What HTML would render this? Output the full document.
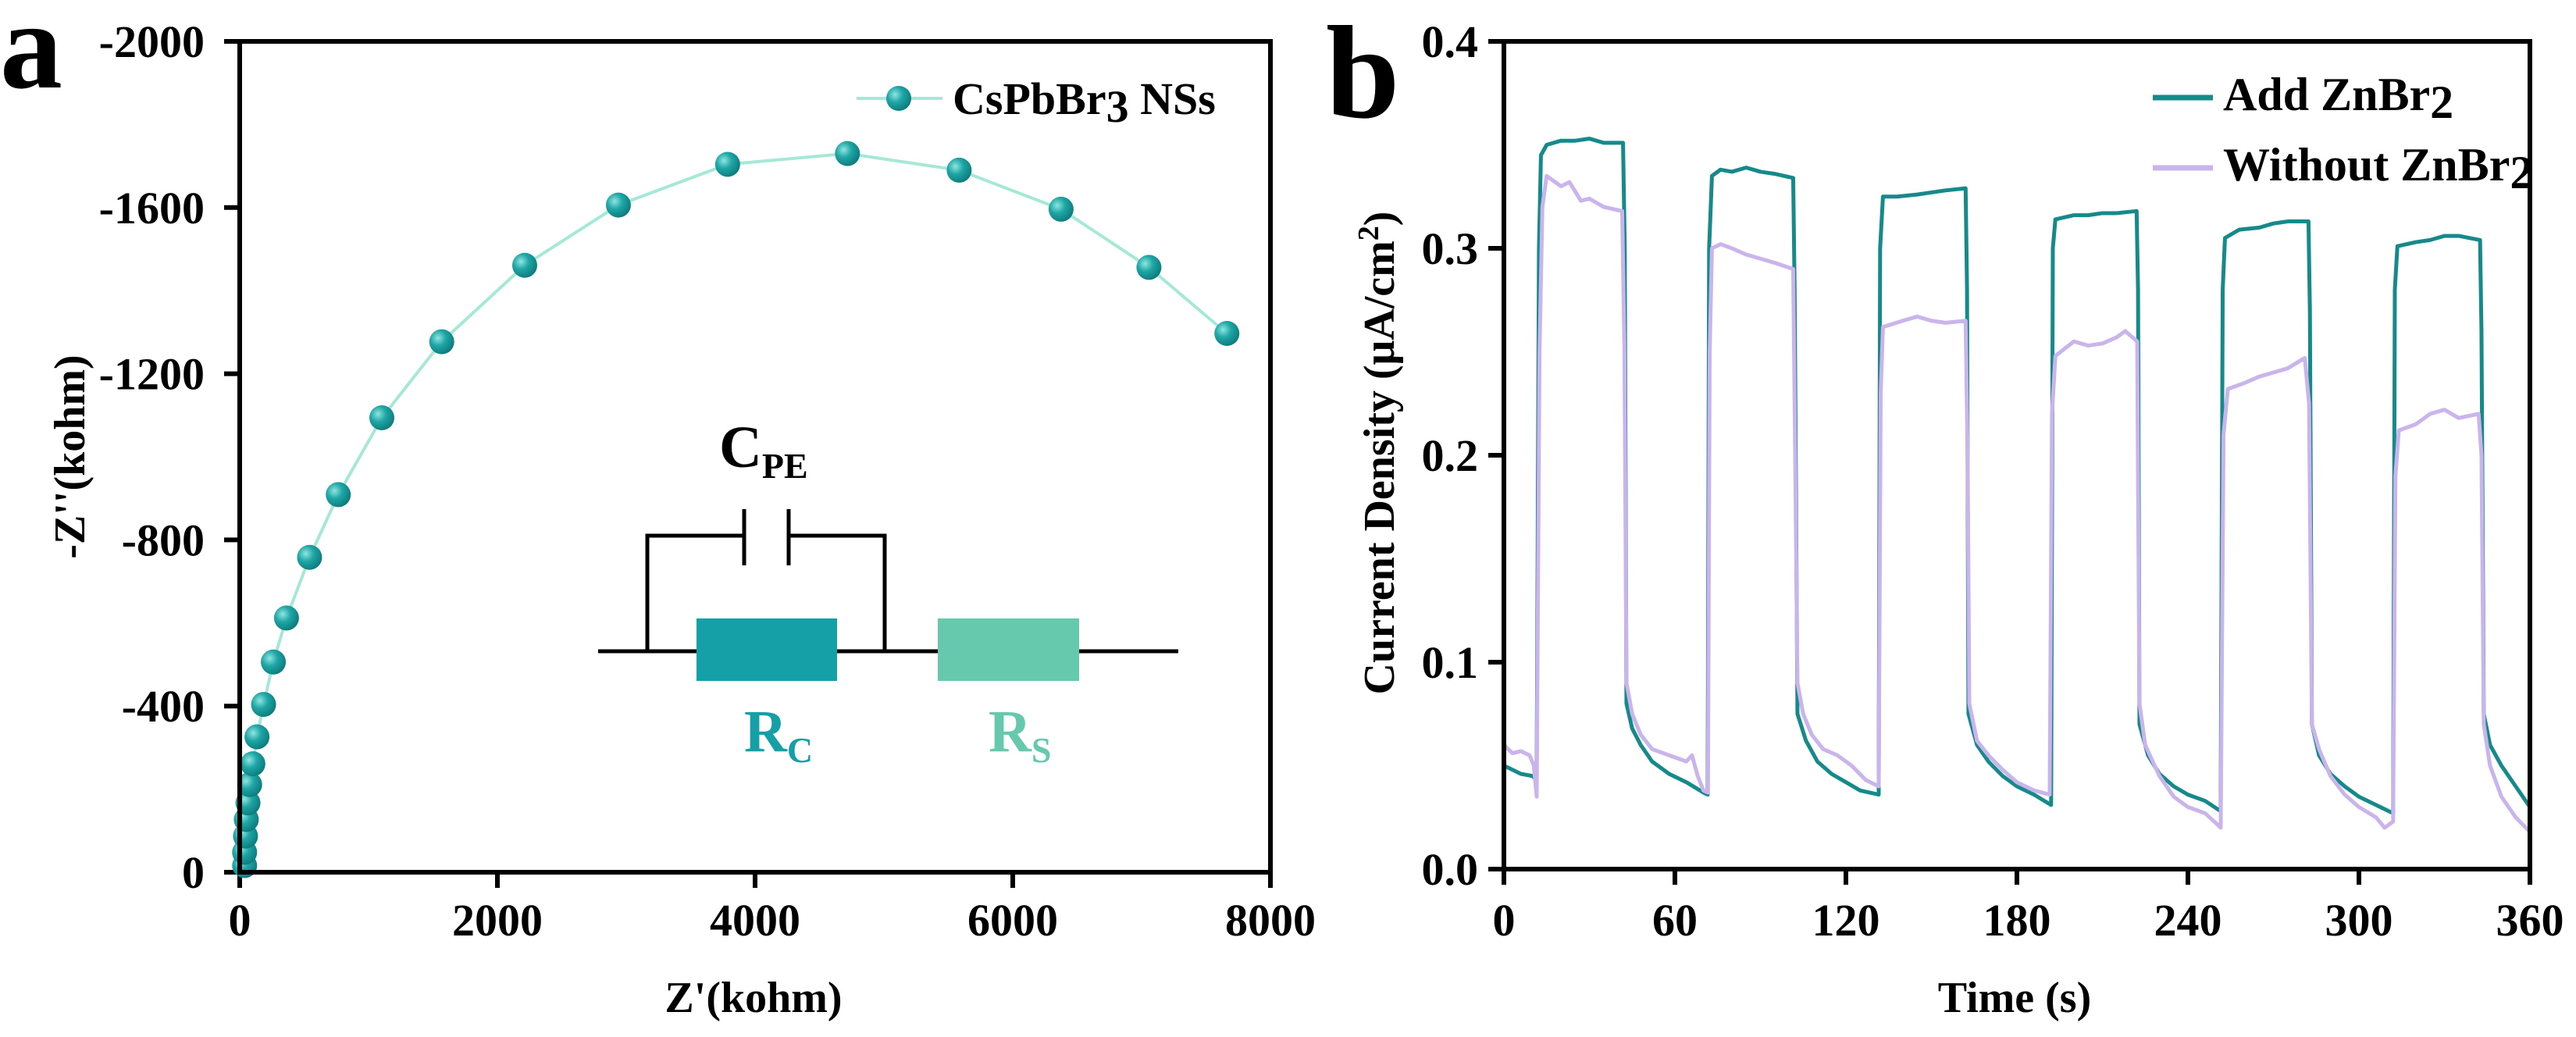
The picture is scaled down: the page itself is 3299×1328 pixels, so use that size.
<!DOCTYPE html>
<html><head><meta charset="utf-8">
<style>
html,body{margin:0;padding:0;background:#fff;}
svg{display:block;font-family:"Liberation Serif",serif;font-weight:bold;}
</style></head>
<body>
<svg id="fig" width="3299" height="1328" viewBox="0 0 3299 1328" xmlns="http://www.w3.org/2000/svg">
<defs>
<radialGradient id="ball" cx="0.35" cy="0.35" r="0.7">
<stop offset="0" stop-color="#8fe6df"/><stop offset="0.45" stop-color="#1fa6a6"/><stop offset="1" stop-color="#0d7a7c"/>
</radialGradient>
</defs>
<g id="pa"></g>
<g id="pb"></g>
</svg>
<script>
// ---- Panel a data (Nyquist) ----
const nyqX = [38, 38, 45, 51, 64, 77, 102, 134, 185, 261, 363, 542, 765, 1103, 1568, 2212, 2939, 3787, 4717, 5584, 6375, 7057, 7662];
const nyqY = [16, 48, 87, 127, 167, 211, 261, 326, 404, 506, 612, 758, 909, 1094, 1277, 1461, 1606, 1704, 1730, 1690, 1596, 1456, 1297];
const aXTicks = [0, 2000, 4000, 6000, 8000];
const aYTicks = [0, 400, 800, 1200, 1600, 2000];
const aYLabels = ["0", "-400", "-800", "-1200", "-1600", "-2000"];

// ---- Panel b data (photocurrent) ----
const addT = [0,3,6,10,11.5,12.3,13,15,20,25,30,35,41.8,42.4,43,45,48,52,58,64,70,71.5,72,73,76,80,85,90,95,101.5,102,103,106,110,115,120,125,131.5,132,133,138,145,150,155,162,162.5,163,166,170,175,180,186,192,192.6,193.5,200,205,210,215,222,222.5,223,226,230,235,240,246,251.5,252.2,253,258,265,270,275,282.3,282.8,283.5,286,290,295,300,306,312,312.6,313.5,320,325,330,335,342.5,343,343.8,346,350,355,360];
const addV = [.050,.048,.046,.045,.043,.300,.345,.350,.352,.352,.353,.351,.351,.300,.080,.068,.060,.052,.046,.042,.037,.036,.300,.335,.338,.337,.339,.337,.336,.334,.280,.075,.062,.052,.046,.042,.038,.036,.300,.325,.325,.326,.327,.328,.329,.280,.075,.060,.052,.045,.040,.036,.031,.300,.314,.316,.316,.317,.317,.318,.280,.070,.055,.046,.040,.036,.033,.028,.280,.305,.309,.310,.312,.313,.313,.270,.070,.055,.046,.040,.035,.031,.027,.280,.301,.303,.304,.306,.306,.304,.260,.075,.060,.050,.040,.030];
const woT = [0,3,6,9,10.5,11.5,12.5,13.5,15,17,20,23,27,30,35,41.5,42.3,43,45,48,52,56,60,64,66,68,70,71.6,72.2,73,76,80,85,90,95,101.5,102.2,103,105,108,112,117,122,127,131.5,132.2,133,140,145,150,155,162,162.7,163.3,166,170,175,180,186,191.5,192.3,193.5,200,205,210,215,218,222.2,223,225,230,235,240,246,250,251.5,252.5,254,260,265,270,275,281,282.5,283.5,286,290,295,300,306,309,312,312.8,314,320,325,330,335,342,343,343.8,346,350,355,360];
const woV = [.060,.056,.057,.055,.050,.035,.250,.320,.335,.333,.330,.332,.323,.324,.320,.318,.250,.090,.075,.065,.058,.056,.054,.052,.055,.045,.038,.037,.250,.300,.302,.300,.297,.295,.293,.290,.200,.090,.075,.065,.058,.055,.050,.043,.040,.230,.262,.265,.267,.265,.264,.265,.200,.080,.062,.055,.048,.042,.038,.036,.220,.248,.255,.253,.254,.257,.260,.255,.080,.060,.045,.035,.030,.027,.022,.020,.210,.232,.235,.238,.240,.242,.247,.225,.070,.058,.045,.036,.030,.025,.020,.023,.190,.212,.215,.220,.222,.218,.220,.200,.070,.050,.035,.025,.018];
const bXTicks = [0, 60, 120, 180, 240, 300, 360];
const bYTicks = [0, 0.1, 0.2, 0.3, 0.4];
const bYLabels = ["0.0", "0.1", "0.2", "0.3", "0.4"];

const NS = "http://www.w3.org/2000/svg";
function mk(parent, tag, attrs, text){
  const e = document.createElementNS(NS, tag);
  for (const k in attrs) e.setAttribute(k, attrs[k]);
  if (text !== undefined) e.textContent = text;
  parent.appendChild(e);
  return e;
}

// ===== Panel a =====
const pa = document.getElementById('pa');
const aL = 307, aR = 1627, aT = 53, aB = 1117;
const ax = v => aL + (v / 8000) * (aR - aL);
const ay = v => aB - (v / 2000) * (aB - aT);

let t = mk(pa, 'text', {x: 0, y: 112, 'font-size': 160}, 'a');



aXTicks.forEach(v => {
  const l = mk(pa, 'line', {x1: ax(v), x2: ax(v), y1: aB, y2: aB + 20, stroke: '#000', 'stroke-width': 6});
  
  
  const tx = mk(pa, 'text', {x: ax(v), y: 1198, 'font-size': 58, 'text-anchor': 'middle'}, String(v));
  
  
});
aYTicks.forEach((v, i) => {
  const l = mk(pa, 'line', {x1: aL - 20, x2: aL, y1: ay(v), y2: ay(v), stroke: '#000', 'stroke-width': 6});
  
  
  const tx = mk(pa, 'text', {x: 262, y: ay(v) + 20, 'font-size': 58, 'text-anchor': 'end'}, aYLabels[i]);
  
  
});

// circuit inset
const circ = mk(pa, 'g', {});


mk(circ, 'line', {x1: 766, x2: 1509, y1: 834, y2: 834, stroke: '#000', 'stroke-width': 5});
mk(circ, 'polyline', {points: '829,834 829,686 953,686', fill: 'none', stroke: '#000', 'stroke-width': 5});
mk(circ, 'polyline', {points: '1010,686 1133,686 1133,834', fill: 'none', stroke: '#000', 'stroke-width': 5});
mk(circ, 'line', {x1: 953, x2: 953, y1: 652, y2: 724, stroke: '#000', 'stroke-width': 5});
mk(circ, 'line', {x1: 1010, x2: 1010, y1: 652, y2: 724, stroke: '#000', 'stroke-width': 5});
let rc = mk(circ, 'rect', {x: 892, y: 792, width: 180, height: 80, fill: '#14a0a6'});


let rs = mk(circ, 'rect', {x: 1201, y: 792, width: 181, height: 80, fill: '#66c9ae'});


let cpe = mk(circ, 'text', {x: 921, y: 598, 'font-size': 76}, 'C');
mk(cpe, 'tspan', {dy: 14, 'font-size': 46}, 'PE');
let rcl = mk(circ, 'text', {x: 953, y: 962, 'font-size': 76, fill: '#14a0a6'}, 'R');
mk(rcl, 'tspan', {dy: 14, 'font-size': 46}, 'C');
let rsl = mk(circ, 'text', {x: 1266, y: 962, 'font-size': 76, fill: '#66c9ae'}, 'R');
mk(rsl, 'tspan', {dy: 14, 'font-size': 46}, 'S');

// series
const pts = nyqX.map((x, i) => ax(x) + ',' + ay(nyqY[i])).join(' ');
let nl = mk(pa, 'polyline', {points: pts, fill: 'none', stroke: '#a6e8d6', 'stroke-width': 4});


nyqX.forEach((x, i) => {
  const c = mk(pa, 'circle', {cx: ax(x), cy: ay(nyqY[i]), r: 16, fill: 'url(#ball)'});
  
  
});

// axes
let ab = mk(pa, 'polyline', {points: `${aL},${aT} ${aL},${aB} ${aR},${aB}`, fill: 'none', stroke: '#000', 'stroke-width': 6});


mk(pa, 'polyline', {points: `${aL-3},${aT} ${aR},${aT} ${aR},${aB+20}`, fill: 'none', stroke: '#000', 'stroke-width': 6});

// legend a
const lga = mk(pa, 'g', {});


mk(lga, 'line', {x1: 1097, x2: 1207, y1: 126, y2: 126, stroke: '#a6e8d6', 'stroke-width': 4});
mk(lga, 'circle', {cx: 1151, cy: 126, r: 16, fill: 'url(#ball)'});
let lt = mk(lga, 'text', {x: 1220, y: 146, 'font-size': 58}, 'CsPbBr');
mk(lt, 'tspan', {dy: 10, 'font-size': 58}, '3');
mk(lt, 'tspan', {dy: -10}, ' NSs');

let yta = mk(pa, 'text', {x: 0, y: 0, 'font-size': 56, 'text-anchor': 'middle', transform: 'translate(108,585) rotate(-90)'}, "-Z''(kohm)");


let xta = mk(pa, 'text', {x: 965, y: 1296, 'font-size': 56, 'text-anchor': 'middle'}, "Z'(kohm)");



// ===== Panel b =====
const pb = document.getElementById('pb');
const bL = 1926, bR = 3240, bT = 53, bB = 1113;
const bx = v => bL + (v / 360) * (bR - bL);
const by = v => bB - (v / 0.4) * (bB - bT);

t = mk(pb, 'text', {x: 1698, y: 150, 'font-size': 170}, 'b');



bXTicks.forEach(v => {
  const l = mk(pb, 'line', {x1: bx(v), x2: bx(v), y1: bB, y2: bB + 20, stroke: '#000', 'stroke-width': 6});
  
  
  const tx = mk(pb, 'text', {x: bx(v), y: 1198, 'font-size': 58, 'text-anchor': 'middle'}, String(v));
  
  
});
bYTicks.forEach((v, i) => {
  const l = mk(pb, 'line', {x1: bL - 20, x2: bL, y1: by(v), y2: by(v), stroke: '#000', 'stroke-width': 6});
  
  
  const tx = mk(pb, 'text', {x: 1893, y: by(v) + 20, 'font-size': 58, 'text-anchor': 'end'}, bYLabels[i]);
  
  
});

let sAdd = mk(pb, 'polyline', {points: addT.map((x, i) => bx(x) + ',' + by(addV[i])).join(' '), fill: 'none', stroke: '#16898a', 'stroke-width': 5, 'stroke-linejoin': 'round'});


let sWo = mk(pb, 'polyline', {points: woT.map((x, i) => bx(x) + ',' + by(woV[i])).join(' '), fill: 'none', stroke: '#c9b4ec', 'stroke-width': 5, 'stroke-linejoin': 'round'});



let bb = mk(pb, 'polyline', {points: `${bL},${bT} ${bL},${bB} ${bR},${bB}`, fill: 'none', stroke: '#000', 'stroke-width': 6});


mk(pb, 'polyline', {points: `${bL-3},${bT} ${bR},${bT} ${bR},${bB}`, fill: 'none', stroke: '#000', 'stroke-width': 6});

const l1 = mk(pb, 'g', {});


mk(l1, 'line', {x1: 2757, x2: 2834, y1: 125, y2: 125, stroke: '#16898a', 'stroke-width': 7});
let t1 = mk(l1, 'text', {x: 2847, y: 141, 'font-size': 60}, 'Add ZnBr');
mk(t1, 'tspan', {dy: 10}, '2');
const l2 = mk(pb, 'g', {});


mk(l2, 'line', {x1: 2757, x2: 2834, y1: 215, y2: 215, stroke: '#c9b4ec', 'stroke-width': 7});
let t2 = mk(l2, 'text', {x: 2847, y: 231, 'font-size': 60}, 'Without ZnBr');
mk(t2, 'tspan', {dy: 10}, '2');

let ytb = mk(pb, 'text', {x: 0, y: 0, 'font-size': 56, 'text-anchor': 'middle', transform: 'translate(1785,580) rotate(-90)'}, 'Current Density (μA/cm');
mk(ytb, 'tspan', {dy: -20, 'font-size': 38}, '2');
mk(ytb, 'tspan', {dy: 20}, ')');


let xtb = mk(pb, 'text', {x: 2580, y: 1296, 'font-size': 56, 'text-anchor': 'middle'}, 'Time (s)');


</script>
</body></html>
